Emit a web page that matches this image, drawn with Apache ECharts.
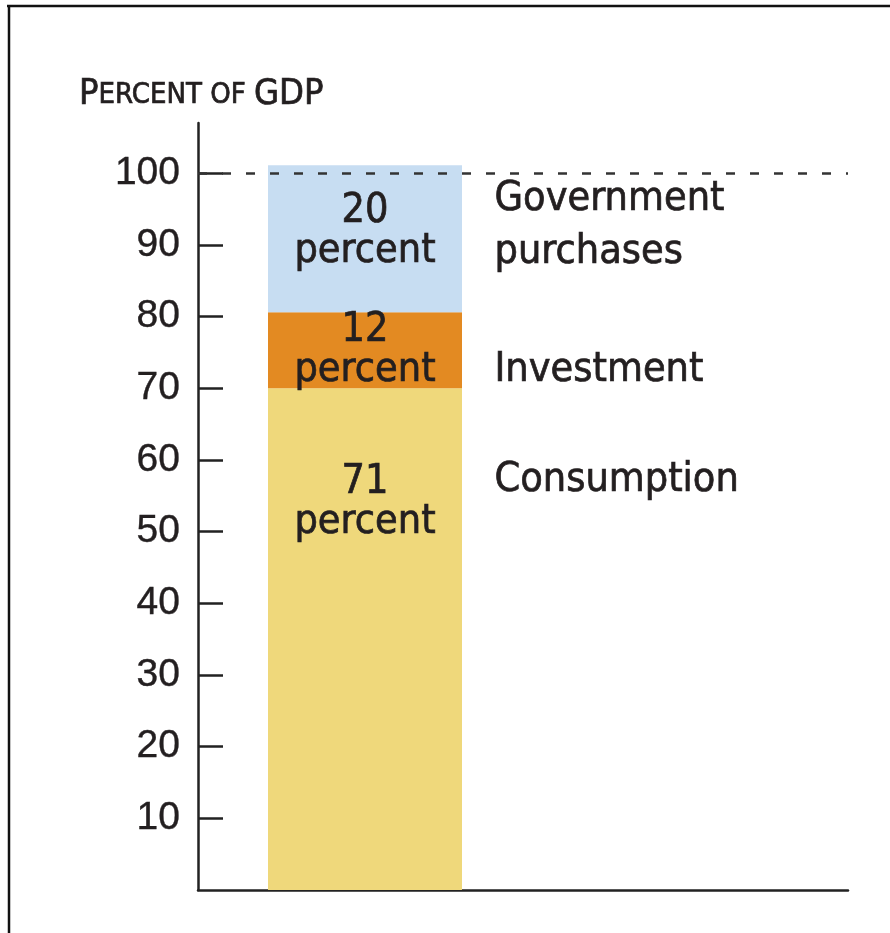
<!DOCTYPE html>
<html lang="en">

<head>
    <meta charset="UTF-8">
    <title>Percent of GDP</title>
    <script src="https://cdn.jsdelivr.net/npm/echarts@6/dist/echarts.min.js"></script>
    <style>
        html, body { margin: 0; padding: 0; background: #fff; }
        #main { width: 890px; height: 933px; }
    </style>
</head>

<body>
    <div id="main"></div>
    <script>
        // 数据
        const categories = ['GDP', ''];
        const components = ['Consumption', 'Investment', 'Government\npurchases'];
        const segmentHeights = [70, 10.6, 20.5];   // 图上实际柱段高度
        const sharePct = [71, 12, 20];              // 柱内标注的百分比
        const nameAnchorY = [57.1, 72.5, 92.6];     // 右侧名称所在的 y 值
        const yTicks = [10, 20, 30, 40, 50, 60, 70, 80, 90, 100];
        const fullLevel = 100;

        const colors = ['#efd87b', '#e38a22', '#c7ddf2'];
        const ink = '#231f20';
        const narrow = '"Liberation Sans Narrow", "DejaVu Sans Condensed", sans-serif';

        let myChart = echarts.init(document.getElementById('main'));

        // 柱内标签位置
        const innerLabel = [
            { position: 'insideTop', distance: 74 },
            { position: 'inside' },
            { position: 'insideTop', distance: 26 }
        ];

        // 文字稍加粗
        const heavy = { textBorderColor: ink, textBorderWidth: 0.7 };

        let series = components.map((name, i) => ({
            name: name,
            type: 'bar',
            stack: 'gdp',
            barWidth: 194,
            itemStyle: { color: colors[i] },
            data: [segmentHeights[i], null],
            label: Object.assign({
                show: true,
                formatter: sharePct[i] + '\npercent',
                fontFamily: narrow,
                fontSize: 41,
                lineHeight: 40,
                color: ink
            }, heavy, innerLabel[i]),
            z: 2
        }));

        // 右侧名称 + 100 处虚线
        series[0].markPoint = {
            symbol: 'circle',
            symbolSize: 1,
            itemStyle: { color: 'rgba(0,0,0,0)' },
            silent: true,
            label: Object.assign({
                show: true,
                position: 'right',
                distance: 129,
                fontFamily: narrow,
                fontSize: 41,
                lineHeight: 53,
                color: ink,
                formatter: p => p.name
            }, heavy),
            data: components.map((name, i) => ({ name: name, coord: [0, nameAnchorY[i]] }))
        };
        series[0].markLine = {
            symbol: 'none',
            silent: true,
            label: { show: false },
            lineStyle: { color: '#333', width: 2.5, type: [9, 15] },
            data: [{ yAxis: fullLevel }],
            z: 5
        };

        // 占位列：让柱子稍微右移
        series.unshift({
            name: 'pad',
            type: 'bar',
            stack: 'pad',
            barWidth: 3,
            barGap: '200%',
            itemStyle: { color: 'rgba(0,0,0,0)' },
            data: [],
            silent: true
        });

        let option = {
            animation: false,
            title: {
                text: '{b|P}{s|ERCENT OF }{b|GDP}',
                left: 74,
                top: 72,
                textStyle: {
                    rich: {
                        b: Object.assign({ fontFamily: narrow, fontSize: 36, fontWeight: 'normal', color: ink }, heavy),
                        s: Object.assign({ fontFamily: narrow, fontSize: 29, fontWeight: 'normal', color: ink }, heavy)
                    }
                }
            },
            grid: { left: 198, right: 42, top: 123, bottom: 43 },
            xAxis: {
                type: 'category',
                data: categories,
                axisLine: { lineStyle: { color: '#222', width: 2.5 } },
                axisTick: { show: false },
                axisLabel: { show: false }
            },
            yAxis: {
                type: 'value',
                min: 0,
                max: 107,
                interval: 10,
                splitLine: { show: false },
                axisLine: { show: true, lineStyle: { color: '#222', width: 2.5 } },
                axisTick: {
                    show: true, inside: true, length: 25,
                    customValues: yTicks,
                    lineStyle: { color: '#222', width: 2.5 }
                },
                axisLabel: {
                    margin: 18,
                    customValues: yTicks,
                    fontFamily: '"Liberation Sans", Arial, sans-serif',
                    fontSize: 39,
                    color: ink,
                    textBorderColor: ink,
                    textBorderWidth: 0.4
                }
            },
            // 外框（上边和左边）
            graphic: [
                { type: 'line', shape: { x1: 7, y1: 6, x2: 890, y2: 6 }, style: { stroke: '#111', lineWidth: 2.5 } },
                { type: 'line', shape: { x1: 9, y1: 6, x2: 9, y2: 933 }, style: { stroke: '#111', lineWidth: 2.5 } }
            ],
            series: series
        };

        myChart.setOption(option);
    </script>
</body>

</html>
